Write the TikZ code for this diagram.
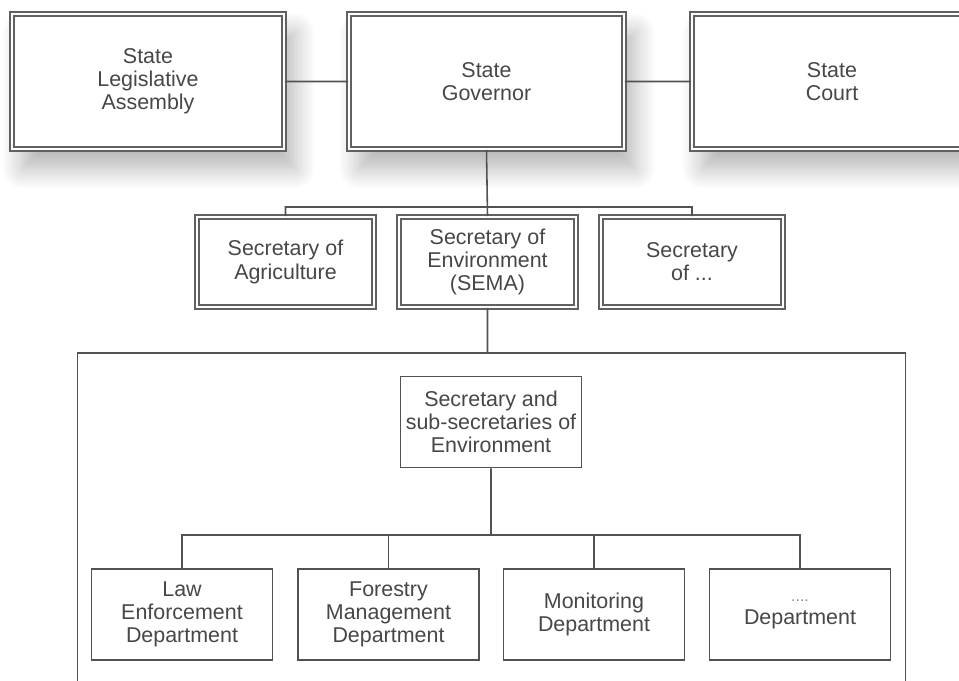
\documentclass[tikz,border=0pt]{standalone}
\usepackage{fontspec}
\setmainfont{Liberation Sans}
\usepackage{tikz}
\usetikzlibrary{positioning,shadows.blur}

\tikzset{
  txt/.style={align=center, text=black!72, inner sep=1pt, font=\fontsize{12.2}{13.2}\selectfont},
  topbox/.style={txt, draw=black!62, line width=0.9pt, double=white, double distance=1.4pt,
    fill=white, minimum height=2.7cm,
    blur shadow={shadow xshift=6pt, shadow yshift=-11pt, shadow blur radius=12pt,
      shadow blur steps=14, shadow opacity=30}},
  secbox/.style={txt, draw=black!62, line width=0.9pt, double=white, double distance=1.4pt,
    fill=white, minimum width=3.55cm, minimum height=1.8cm},
  deptbox/.style={txt, draw=black!68, line width=0.9pt, fill=white,
    minimum width=3.62cm, minimum height=1.82cm},
  link/.style={draw=black!68, line width=0.9pt}
}

\begin{document}
\begin{tikzpicture}[x=0.02cm, y=-0.02cm]
  \useasboundingbox (0,0) rectangle (959,680);

  % top row
  \node[topbox, minimum width=5.44cm] (leg)   at (148,81.5)   {State\\Legislative\\Assembly};
  \node[topbox, minimum width=5.5cm]  (gov)   at (486.5,81.5) {State\\Governor};
  \node[topbox, minimum width=5.6cm]  (court) at (832,81.5)   {State\\Court};

  % secretaries
  \node[secbox] (agri) at (285.5,262) {Secretary of\\Agriculture};
  \node[secbox] (sema) at (487.5,262) {Secretary of\\Environment\\(SEMA)};
  \node[secbox, minimum width=3.65cm] (other) at (692,262) {Secretary\\of ...};

  % SEMA frame
  \node[draw=black!68, line width=0.9pt, minimum width=16.56cm, minimum height=8cm] (frame) at (491.5,553) {};
  \node[deptbox] (env) at (491,422) {Secretary and\\sub-secretaries of\\Environment};

  \node[deptbox] (law)  at (182,614.5)   {Law\\Enforcement\\Department};
  \node[deptbox] (fore) at (388.5,614.5) {Forestry\\Management\\Department};
  \node[deptbox] (mon)  at (594,614.5)   {Monitoring\\Department};
  \node[deptbox] (etc)  at (800,614.5)   {{\small\color{black!45}....}\\Department};

  \coordinate (secbus) at (487,207);
  \coordinate (deptbus) at (491,535);

  \path[link] (leg.east) -- (gov.west)
              (gov.east) -- (court.west)
              (gov.south) -- (sema.north)
              (agri.north) |- (secbus) -| (other.north)
              (sema.south) -- (sema.south |- frame.north)
              (env.south) -- (deptbus);
  \foreach \d in {law,fore,mon,etc}
    \path[link] (deptbus) -| (\d.north);
\end{tikzpicture}
\end{document}
